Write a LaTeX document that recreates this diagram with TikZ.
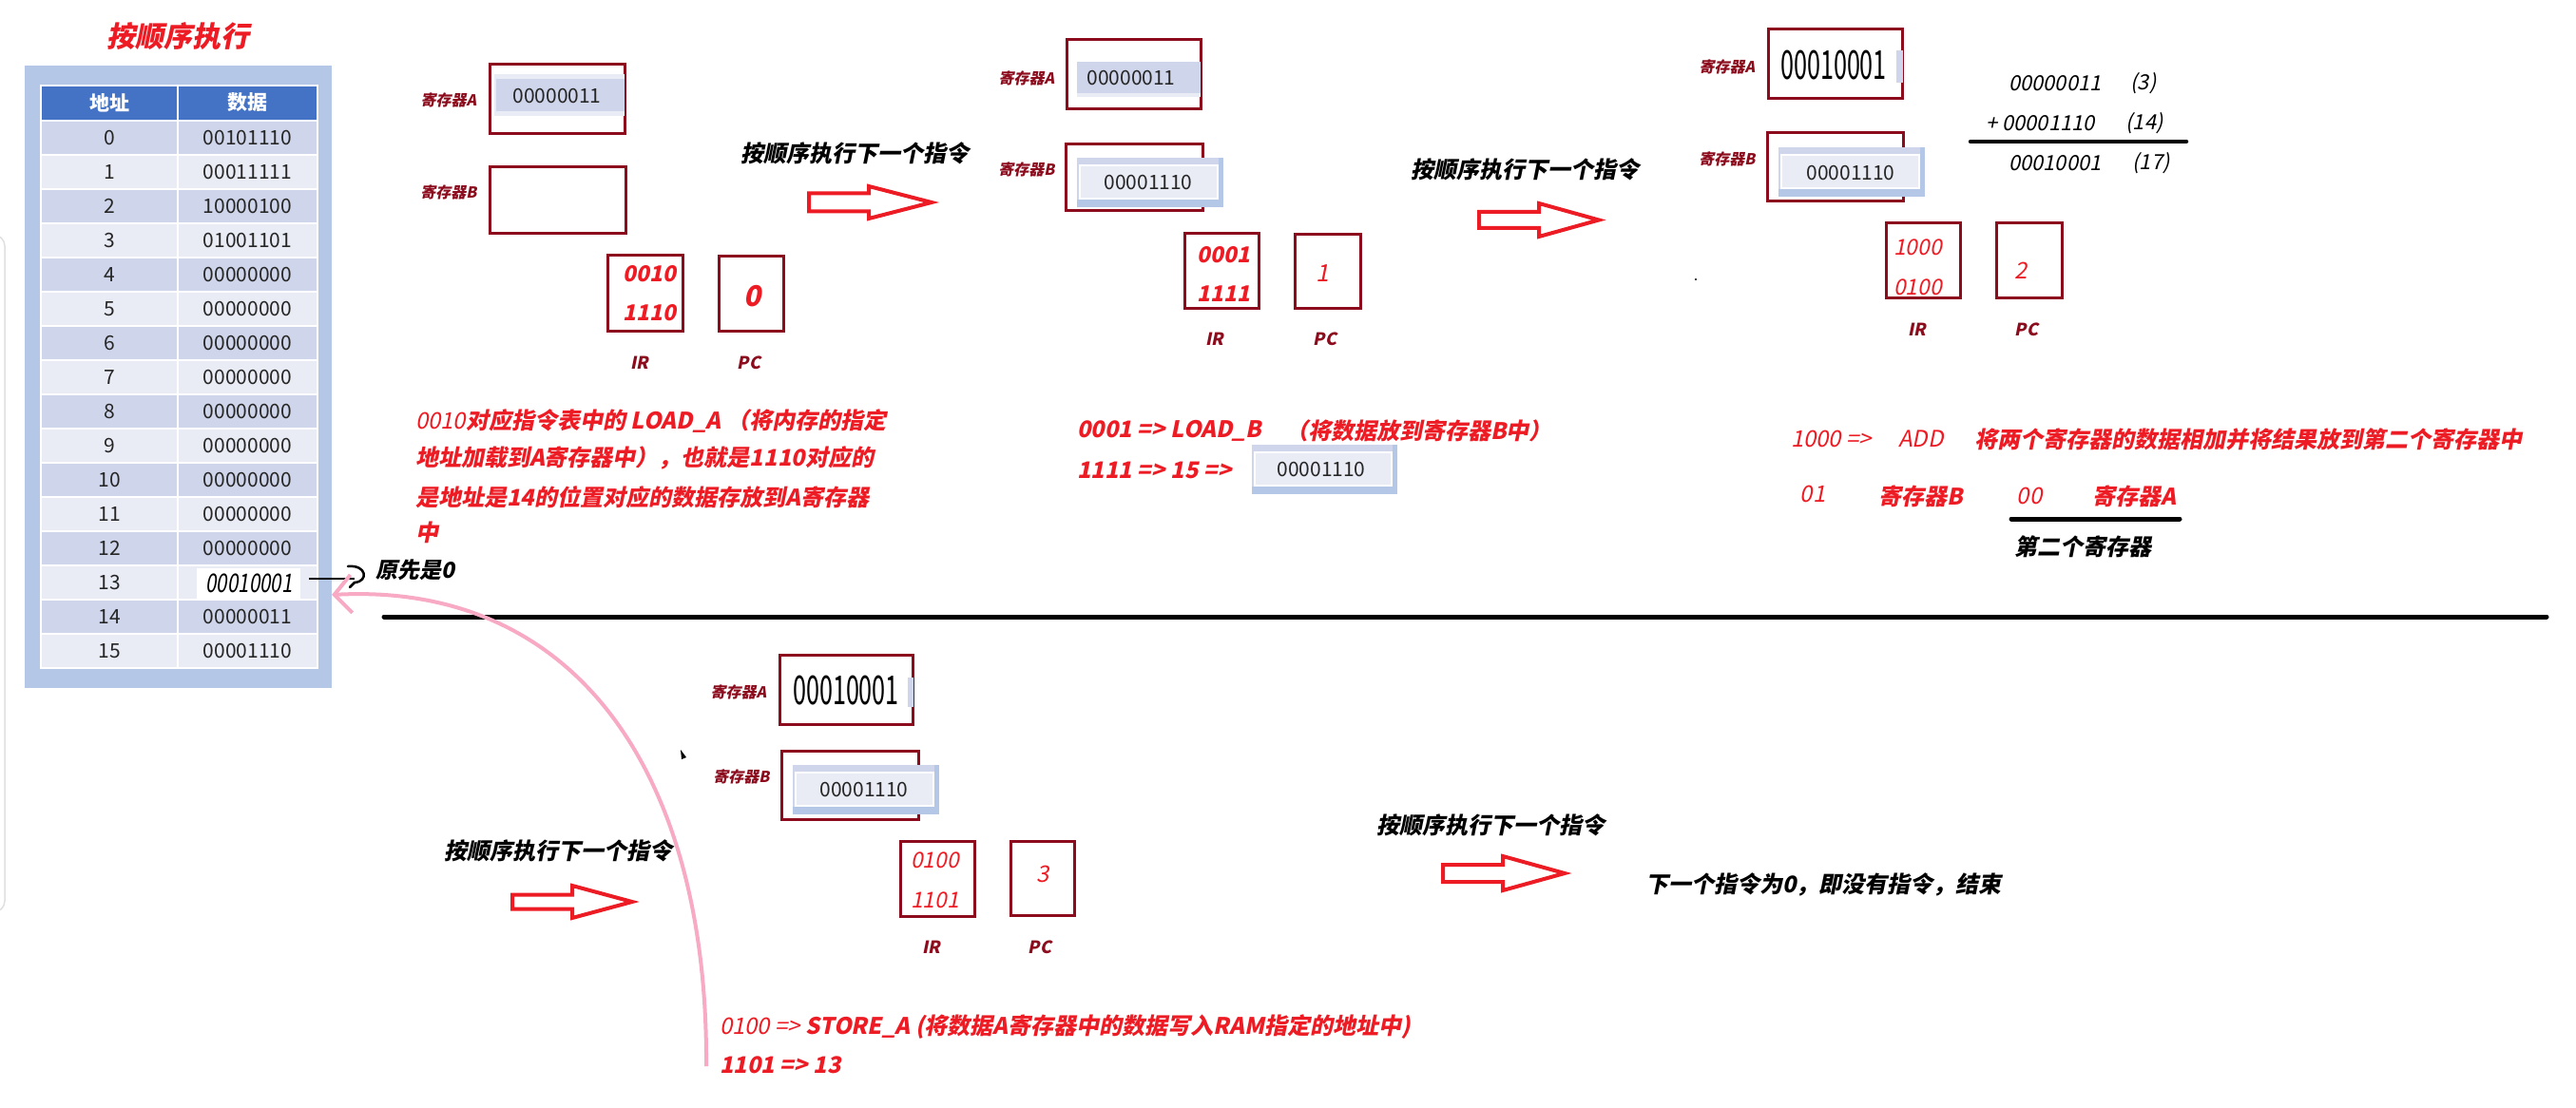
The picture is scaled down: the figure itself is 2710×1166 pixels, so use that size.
\documentclass[tikz,border=0pt]{standalone}
\usepackage{fontspec}
\setmainfont{Noto Sans CJK SC}[ItalicFont={*}, BoldItalicFont={*/B},
  ItalicFeatures={FakeSlant=0.2}, BoldItalicFeatures={FakeSlant=0.2}]
\usetikzlibrary{arrows.meta}
\definecolor{dred}{RGB}{140,12,30}
\definecolor{bred}{RGB}{237,28,36}
\definecolor{pinkc}{RGB}{248,170,196}
\definecolor{hdr}{RGB}{68,114,196}
\definecolor{outerb}{RGB}{180,199,231}
\definecolor{rowd}{RGB}{207,213,234}
\definecolor{rowl}{RGB}{233,235,245}
\newcommand\fsz[1]{\fontsize{#1}{#1}\selectfont}
\newcommand\hollowarrow[6]{%
  \draw[hollow] (#1,{#4-#5}) -- (#2,{#4-#5}) -- (#2,{#4-#6}) -- (#3,#4) -- (#2,{#4+#6}) -- (#2,{#4+#5}) -- (#1,{#4+#5}) -- cycle;}
\newcommand\bcell[4]{%
  \fill[outerb] (#1,#2) rectangle (#3,#4);
  \fill[rowd] (#1,#2) rectangle ({#3-5},{#4-8});
  \fill[rowl, draw=white, line width=1.5pt] ({#1+3},{#2+8}) rectangle ({#3-6},{#4-9});}
\begin{document}
\begin{tikzpicture}[x=1pt,y=-1pt,
  every node/.style={inner sep=0pt, outer sep=0pt},
  lbl/.style={text=dred, font=\fsz{16}\bfseries\itshape},
  tagtxt/.style={text=dred, font=\fsz{18}\bfseries\itshape},
  regbox/.style={draw=dred, line width=3pt},
  irbold/.style={text=bred, font=\fsz{23}\bfseries\itshape, anchor=west},
  irreg/.style={text=bred, font=\fsz{23}\itshape, anchor=west},
  celltxt/.style={font=\fsz{21}, text=black!85},
  nexttxt/.style={font=\fsz{24}\bfseries\itshape, text=black},
  redb/.style={text=bred, font=\fsz{24}\bfseries\itshape, anchor=west},
  redr/.style={text=bred, font=\fsz{24}\itshape, anchor=west},
  hollow/.style={draw=bred, line width=4pt, line join=miter},
  tbltxt/.style={font=\fsz{21}, text=black!85}]
\useasboundingbox (0,0) rectangle (2710,1166);
\fill[white] (0,0) rectangle (2710,1166);
% left window edge
\draw[black!12, line width=1.5pt, rounded corners=12pt] (-20,247) -- (5,247) -- (5,960) -- (-20,960);

% ---------------- table ----------------
\node[text=bred, font=\fsz{30}\bfseries\itshape] (title) at (187,38) {按顺序执行};
\node[fill=outerb, minimum width=323pt, minimum height=655pt] (tbl) at (187.5,396.5) {};
\fill[hdr, draw=white, line width=2pt] (43,90) rectangle (187,127);
\fill[hdr, draw=white, line width=2pt] (187,90) rectangle (334,127);
\node[font=\fsz{21}\bfseries, text=white] (h1) at (115,108) {地址};
\node[font=\fsz{21}\bfseries, text=white] (h2) at (260.5,108) {数据};
\foreach \i/\v/\c in {0/00101110/rowd,1/00011111/rowl,2/10000100/rowd,3/01001101/rowl,
  4/00000000/rowd,5/00000000/rowl,6/00000000/rowd,7/00000000/rowl,8/00000000/rowd,
  9/00000000/rowl,10/00000000/rowd,11/00000000/rowl,12/00000000/rowd,13/{}/rowl,
  14/00000011/rowd,15/00001110/rowl}{
  \fill[\c, draw=white, line width=2pt] (43,{127+36*\i}) rectangle (187,{163+36*\i});
  \fill[\c, draw=white, line width=2pt] (187,{127+36*\i}) rectangle (334,{163+36*\i});
  \node[tbltxt] (a\i) at (115,{145+36*\i}) {\i};
  \node[tbltxt] (d\i) at (260.5,{145+36*\i}) {\v};
}
\fill[white] (207,598) rectangle (316,631);
\node[font=\fsz{27}\itshape] (r13d) at (262,614) {\scalebox{0.76}[1]{00010001}};
% hook arrow to note
\node[font=\fsz{23}\bfseries\itshape] (orig) at (437,600) {原先是0};
\draw[line width=2.5pt] (325,609) -- (373,609);
\draw[line width=2.5pt, line cap=round] (366,596) .. controls (386,594) and (388,612) .. (373,613);
\draw[line width=2.5pt, line cap=round] (373,613) -- (368,618);

% divider
\draw[line width=5pt, line cap=round] (404,649) -- (2679,649);

% pink return arrow
\coordinate (pstart) at (743,1122);
\coordinate (ptip) at (349,626);
\draw[pinkc, line width=4pt, -{Straight Barb[length=18pt, width=40pt, line width=4pt]}]
  (pstart) .. controls (745,820) and (610,612) .. (ptip);

% ---------------- panel 1 ----------------
\node[lbl] (la1) at (472,105) {寄存器A};
\node[regbox, minimum width=142pt, minimum height=73pt] (ra1) at (586,104) {};
\fill[rowl] (520,78) rectangle (657,122);
\fill[rowd] (522,83) rectangle (657,117);
\node[celltxt] (va1) at (586,101) {00000011};
\node[lbl] (lb1) at (472,202) {寄存器B};
\node[regbox, minimum width=143pt, minimum height=70pt] (rb1) at (587,211) {};
\node[regbox, minimum width=79pt, minimum height=80pt] (ir1) at (678.5,309) {};
\node[irbold] (ir1a) at (655,288) {0010};
\node[irbold] (ir1b) at (655,329) {1110};
\node[regbox, minimum width=68pt, minimum height=79pt] (pc1) at (790,309.5) {};
\node[text=bred, font=\fsz{30}\bfseries\itshape] (pc1v) at (792,312) {0};
\node[tagtxt] (irl1) at (673,382) {IR};
\node[tagtxt] (pcl1) at (788,382) {PC};
\node[nexttxt] (nx1) at (899,161) {按顺序执行下一个指令};
\hollowarrow{851}{914}{980}{213}{9.5}{17}
\node[text=bred, font=\fsz{24}\itshape, anchor=west] (t1a) at (437,443) {0010\bfseries 对应指令表中的 LOAD\_A （将内存的指定};
\node[redb] (t1b) at (437,482) {地址加载到A寄存器中），也就是1110对应的};
\node[redb] (t1c) at (437,523) {是地址是14的位置对应的数据存放到A寄存器};
\node[redb] (t1d) at (437,560) {中};

% ---------------- panel 2 ----------------
\node[lbl] (la2) at (1080,82) {寄存器A};
\node[regbox, minimum width=141pt, minimum height=73pt] (ra2) at (1192.5,78.5) {};
\fill[rowd] (1133,65) rectangle (1263,98);
\fill[rowl] (1133,98) rectangle (1263,102);
\node[celltxt] (va2) at (1190,82) {00000011};
\node[lbl] (lb2) at (1080,178) {寄存器B};
\node[regbox, minimum width=144pt, minimum height=70pt] (rb2) at (1193,187) {};
\bcell{1133}{166}{1287}{218}
\node[celltxt] (vb2) at (1208,192) {00001110};
\node[regbox, minimum width=78pt, minimum height=79pt] (ir2) at (1285,285.5) {};
\node[irbold] (ir2a) at (1259,268) {0001};
\node[irbold] (ir2b) at (1259,309) {1111};
\node[regbox, minimum width=69pt, minimum height=78pt] (pc2) at (1396.5,286) {};
\node[text=bred, font=\fsz{25}\itshape] (pc2v) at (1391,288) {1};
\node[tagtxt] (irl2) at (1278,357) {IR};
\node[tagtxt] (pcl2) at (1394,357) {PC};
\node[redb] (t2a) at (1133,453) {0001 => LOAD\_B};
\node[redb] (t2b) at (1352,453) {（将数据放到寄存器B中）};
\node[redb] (t2c) at (1133,495) {1111 => 15 =>};
\bcell{1317}{468}{1470}{520}
\node[celltxt] (t2v) at (1390,494) {00001110};

% ---------------- panel 3 ----------------
\node[nexttxt] (nx2) at (1604,178) {按顺序执行下一个指令};
\hollowarrow{1556}{1619}{1682}{231.5}{8.5}{17.5}
\node[lbl] (la3) at (1817,70) {寄存器A};
\node[regbox, minimum width=141pt, minimum height=73pt] (ra3) at (1930.5,67.5) {};
\fill[rowd] (1995,53) rectangle (2002,87);
\node[font=\fsz{42}] (va3) at (1929,69) {\scalebox{0.6}[1]{00010001}};
\node[lbl] (lb3) at (1817,167) {寄存器B};
\node[regbox, minimum width=143pt, minimum height=72pt] (rb3) at (1930.5,176) {};
\bcell{1871}{155}{2025}{207}
\node[celltxt] (vb3) at (1947,182) {00001110};
\node[font=\fsz{22}\itshape, anchor=west] (s1) at (2113,88) {00000011};
\node[font=\fsz{22}\itshape] (s1p) at (2255,88) {(3)};
\node[font=\fsz{22}\itshape, anchor=west] (s2) at (2089,130) {+ 00001110};
\node[font=\fsz{22}\itshape] (s2p) at (2256,130) {(14)};
\draw[line width=4.5pt, line cap=round] (2073,149) -- (2300,149);
\node[font=\fsz{22}\itshape, anchor=west] (s3) at (2113,172) {00010001};
\node[font=\fsz{22}\itshape] (s3p) at (2263,172) {(17)};
\node[regbox, minimum width=78pt, minimum height=79pt] (ir3) at (2023,274.5) {};
\node[irreg] (ir3a) at (1992,260) {1000};
\node[irreg] (ir3b) at (1992,302) {0100};
\node[regbox, minimum width=69pt, minimum height=79pt] (pc3) at (2134.5,274.5) {};
\node[text=bred, font=\fsz{24}\itshape] (pc3v) at (2126,285) {2};
\node[tagtxt] (irl3) at (2017,347) {IR};
\node[tagtxt] (pcl3) at (2132,347) {PC};
\fill (1784,294) circle (1.2pt);
\node[redr] (t3a) at (1884,462) {1000 =>};
\node[redr] (t3b) at (1997,462) {ADD};
\node[redb] (t3c) at (2077,462) {将两个寄存器的数据相加并将结果放到第二个寄存器中};
\node[text=bred, font=\fsz{24}\itshape] (t3d) at (1907,520) {01};
\node[redb] (t3e) at (1976,522) {寄存器B};
\node[text=bred, font=\fsz{24}\itshape] (t3f) at (2135,522) {00};
\node[redb] (t3g) at (2201,522) {寄存器A};
\draw[line width=5pt, line cap=round] (2116,546) -- (2293,546);
\node[nexttxt, anchor=west] (t3h) at (2119,575) {第二个寄存器};

% ---------------- panel 4 ----------------
\node[lbl] (la4) at (777,728) {寄存器A};
\node[regbox, minimum width=140pt, minimum height=73pt] (ra4) at (890,725.5) {};
\fill[rowd] (955,713) rectangle (961,744);
\node[font=\fsz{42}] (va4) at (890,727) {\scalebox{0.6}[1]{00010001}};
\node[lbl] (lb4) at (780,817) {寄存器B};
\node[regbox, minimum width=144pt, minimum height=72pt] (rb4) at (894,826) {};
\bcell{834}{805}{988}{857}
\node[celltxt] (vb4) at (909,831) {00001110};
\fill (716,789) -- (722,797) -- (717,799) -- cycle;
\node[nexttxt] (nx3) at (587,895) {按顺序执行下一个指令};
\hollowarrow{539}{602}{665}{949}{7.5}{17}
\node[regbox, minimum width=78pt, minimum height=79pt] (ir4) at (986,924.5) {};
\node[irreg] (ir4a) at (958,905) {0100};
\node[irreg] (ir4b) at (958,947) {1101};
\node[regbox, minimum width=67pt, minimum height=78pt] (pc4) at (1096.5,924) {};
\node[text=bred, font=\fsz{24}\itshape] (pc4v) at (1097,920) {3};
\node[tagtxt] (irl4) at (980,997) {IR};
\node[tagtxt] (pcl4) at (1094,997) {PC};
\node[redr] (t4a) at (757,1081) {0100 => \bfseries STORE\_A (将数据A寄存器中的数据写入RAM指定的地址中)};
\node[redb] (t4b) at (757,1121) {1101 => 13};

% ---------------- panel 5 ----------------
\node[nexttxt] (nx4) at (1568,868) {按顺序执行下一个指令};
\hollowarrow{1518}{1581}{1646}{919}{9}{18}
\node[nexttxt, anchor=west] (endt) at (1731,931) {下一个指令为0，即没有指令，结束};
\end{tikzpicture}
\end{document}
